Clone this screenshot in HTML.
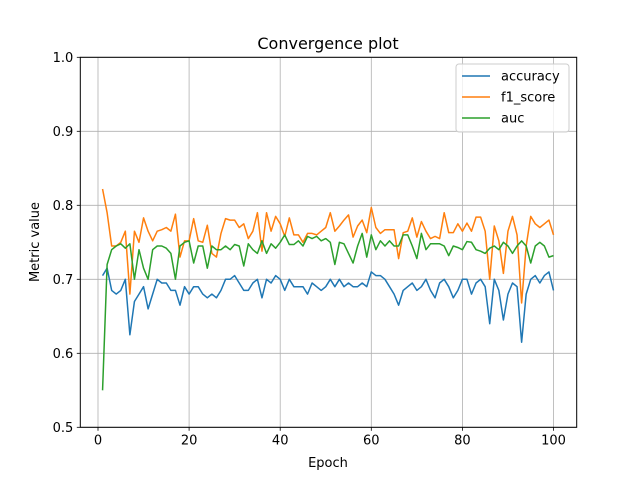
<!DOCTYPE html>
<html><head><meta charset="utf-8"><style>
body{margin:0;background:#fff;font-family:"Liberation Sans","DejaVu Sans",sans-serif}
svg text{font-family:"DejaVu Sans","Liberation Sans",sans-serif}
</style></head><body>
<svg id="chart" width="640" height="480" xmlns="http://www.w3.org/2000/svg">
<rect width="640" height="480" fill="#fff"/>
<g id="grid"></g>
<g id="series"></g>
<rect x="80.3" y="57.3" width="496.4" height="370" fill="none" stroke="#000" stroke-width="1"/>
<g id="ticks"></g>
<text x="328" y="49" text-anchor="middle" font-size="16">Convergence plot</text>
<text x="328" y="467" text-anchor="middle" font-size="13">Epoch</text>
<text transform="translate(39,242) rotate(-90)" text-anchor="middle" font-size="13">Metric value</text>
<g id="legend">
<rect x="456" y="64" width="113" height="68" rx="3" fill="#fff" fill-opacity="0.8" stroke="#ccc"/>
</g>
</svg>
<script>
const epochs = Array.from({length:100},(_,i)=>i+1);
const accuracy = [0.705,0.715,0.685,0.68,0.685,0.70,0.625,0.67,0.68,0.69,0.66,0.68,0.70,0.695,0.695,0.685,0.685,0.665,0.69,0.68,0.69,0.69,0.68,0.675,0.68,0.675,0.685,0.70,0.70,0.705,0.695,0.685,0.685,0.695,0.70,0.675,0.70,0.695,0.705,0.70,0.685,0.70,0.69,0.69,0.69,0.68,0.695,0.69,0.685,0.69,0.70,0.69,0.70,0.69,0.695,0.69,0.69,0.695,0.69,0.71,0.705,0.705,0.70,0.69,0.68,0.665,0.685,0.69,0.695,0.685,0.69,0.70,0.685,0.675,0.695,0.70,0.69,0.675,0.685,0.70,0.70,0.68,0.695,0.70,0.69,0.64,0.70,0.685,0.645,0.68,0.695,0.69,0.615,0.68,0.70,0.705,0.695,0.705,0.71,0.685];
const f1Score = [0.822,0.79,0.745,0.745,0.75,0.765,0.68,0.765,0.75,0.783,0.765,0.752,0.765,0.767,0.77,0.765,0.788,0.73,0.752,0.752,0.782,0.752,0.75,0.773,0.735,0.73,0.762,0.782,0.78,0.78,0.77,0.775,0.755,0.765,0.79,0.738,0.79,0.765,0.785,0.775,0.758,0.783,0.76,0.76,0.75,0.762,0.762,0.76,0.765,0.77,0.79,0.765,0.772,0.78,0.787,0.757,0.772,0.78,0.763,0.797,0.77,0.762,0.767,0.767,0.767,0.728,0.763,0.765,0.783,0.757,0.778,0.765,0.755,0.758,0.755,0.79,0.763,0.763,0.775,0.765,0.776,0.765,0.784,0.784,0.765,0.70,0.772,0.752,0.708,0.765,0.785,0.76,0.668,0.745,0.785,0.775,0.77,0.775,0.78,0.76];
const auc = [0.55,0.72,0.74,0.745,0.748,0.742,0.748,0.70,0.74,0.715,0.70,0.74,0.745,0.745,0.742,0.735,0.70,0.745,0.75,0.752,0.722,0.745,0.745,0.715,0.745,0.74,0.74,0.745,0.74,0.747,0.745,0.718,0.748,0.74,0.735,0.752,0.735,0.748,0.742,0.75,0.76,0.747,0.747,0.752,0.745,0.758,0.755,0.758,0.752,0.755,0.75,0.72,0.75,0.748,0.735,0.722,0.745,0.762,0.73,0.76,0.74,0.752,0.745,0.752,0.745,0.745,0.76,0.76,0.745,0.728,0.762,0.74,0.748,0.748,0.748,0.745,0.732,0.745,0.743,0.74,0.751,0.75,0.74,0.738,0.735,0.742,0.745,0.74,0.75,0.745,0.735,0.745,0.752,0.745,0.722,0.745,0.75,0.745,0.73,0.732];
const xTicks = [0,20,40,60,80,100];
const yTicks = [0.5,0.6,0.7,0.8,0.9,1.0];
const seriesNames = ["accuracy","f1_score","auc"];
const seriesColors = ["#1f77b4","#ff7f0e","#2ca02c"];

const NS="http://www.w3.org/2000/svg";
const X0=80.3,X1=576.7,Y0=57.3,Y1=427.3;
const xmin=-3.95,xmax=104.95,ymin=0.5,ymax=1.0;
const xs=v=>98+(v)*4.555;
const ys=v=>Y1-(v-ymin)/(ymax-ymin)*(Y1-Y0);
function mk(tag,attrs,parent){const e=document.createElementNS(NS,tag);for(const k in attrs)e.setAttribute(k,attrs[k]);parent.appendChild(e);return e;}
const grid=document.getElementById('grid'),ticks=document.getElementById('ticks'),ser=document.getElementById('series'),leg=document.getElementById('legend');
xTicks.forEach(t=>{const x=xs(t);
 const g=mk('line',{x1:x,x2:x,y1:Y0,y2:Y1,stroke:'#b0b0b0','stroke-width':0.8},grid);
 
 
 mk('line',{x1:x,x2:x,y1:Y1,y2:Y1+3.5,stroke:'#000','stroke-width':0.8},ticks);
 const tx=mk('text',{x:x,y:Y1+17,'text-anchor':'middle','font-size':13},ticks);tx.textContent=t;
 
 
});
yTicks.forEach(t=>{const y=ys(t);
 const g=mk('line',{x1:X0,x2:X1,y1:y,y2:y,stroke:'#b0b0b0','stroke-width':0.8},grid);
 
 
 mk('line',{x1:X0-3.5,x2:X0,y1:y,y2:y,stroke:'#000','stroke-width':0.8},ticks);
 const tx=mk('text',{x:X0-7,y:y+4.5,'text-anchor':'end','font-size':13},ticks);tx.textContent=t.toFixed(1);
 
 
});
[accuracy,f1Score,auc].forEach((arr,i)=>{
 const d=arr.map((v,j)=>(j?'L':'M')+xs(epochs[j]).toFixed(2)+','+ys(v).toFixed(2)).join('');
 const p=mk('path',{d:d,fill:'none',stroke:seriesColors[i],'stroke-width':1.5,'stroke-linejoin':'round'},ser);
 
 
 const ly=76+i*21;
 const ll=mk('line',{x1:462,x2:490,y1:ly,y2:ly,stroke:seriesColors[i],'stroke-width':1.5},leg);
 
 
 const lt=mk('text',{x:501,y:ly+4.5,'font-size':13},leg);lt.textContent=seriesNames[i];
 
 
});
</script>
</body></html>
